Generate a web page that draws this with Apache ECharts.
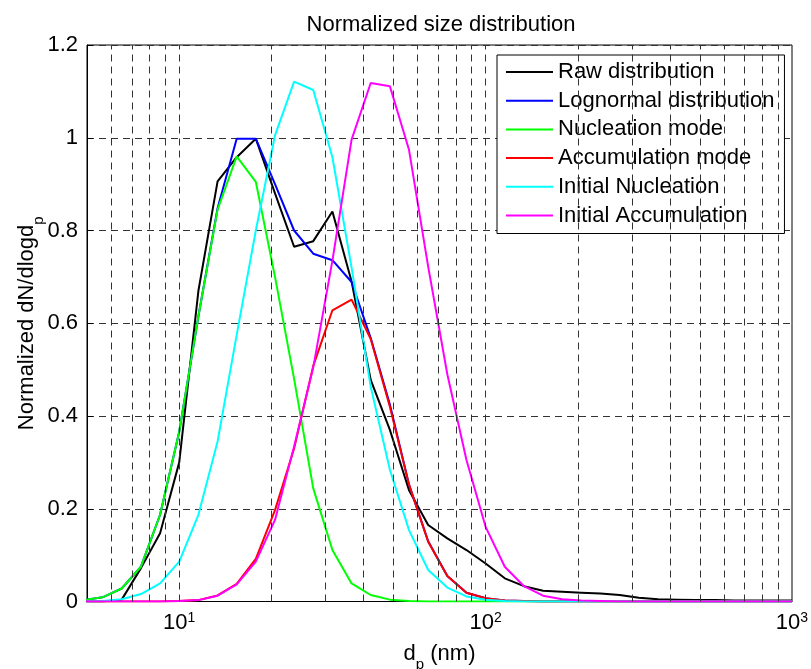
<!DOCTYPE html>
<html>
<head>
<meta charset="utf-8">
<script src="https://cdn.jsdelivr.net/npm/echarts@6/dist/echarts.min.js"></script>
<style>
  html, body { margin: 0; padding: 0; background: #fff; }
  #chart { width: 811px; height: 669px; }
</style>
</head>
<body>
<div id="chart"></div>
<script>
// Particle diameters (nm), 16 bins per decade
const diameters = [4.87, 5.62, 6.49, 7.50, 8.66, 10.0, 11.55, 13.34, 15.40, 17.78,
  20.54, 23.71, 27.38, 31.62, 36.52, 42.17, 48.70, 56.23, 64.94, 74.99,
  86.60, 100.0, 115.5, 133.4, 154.0, 177.8, 205.4, 237.1, 273.8, 316.2,
  365.2, 421.7, 487.0, 562.3, 649.4, 749.9, 866.0, 1000];

const rawDist = [0, 0, 0.004, 0.072, 0.147, 0.300, 0.670, 0.906, 0.958, 0.998,
  0.880, 0.765, 0.777, 0.841, 0.690, 0.478, 0.370, 0.240, 0.165, 0.136,
  0.111, 0.082, 0.050, 0.033, 0.023, 0.021, 0.019, 0.017, 0.014, 0.008,
  0.005, 0.004, 0.003, 0.003, 0.002, 0.002, 0.002, 0.002];

const lognormalDist = [0.003, 0.009, 0.028, 0.075, 0.187, 0.366, 0.615, 0.848, 0.998, 0.998,
  0.900, 0.800, 0.750, 0.736, 0.689, 0.568, 0.425, 0.252, 0.130, 0.055,
  0.019, 0.007, 0.002, 0.001, 0, 0, 0, 0, 0, 0,
  0, 0, 0, 0, 0, 0, 0, 0];

const nucleationMode = [0.003, 0.009, 0.028, 0.075, 0.187, 0.366, 0.615, 0.845, 0.960, 0.905,
  0.700, 0.480, 0.244, 0.111, 0.039, 0.014, 0.004, 0.001, 0, 0,
  0, 0, 0, 0, 0, 0, 0, 0, 0, 0,
  0, 0, 0, 0, 0, 0, 0, 0];

const accumulationMode = [0, 0, 0, 0, 0, 0.001, 0.003, 0.013, 0.038, 0.092,
  0.197, 0.330, 0.508, 0.628, 0.651, 0.566, 0.420, 0.252, 0.129, 0.055,
  0.019, 0.007, 0.002, 0.001, 0, 0, 0, 0, 0, 0,
  0, 0, 0, 0, 0, 0, 0, 0];

const initialNucleation = [0, 0.001, 0.005, 0.016, 0.039, 0.086, 0.187, 0.345, 0.575, 0.800,
  1.005, 1.121, 1.103, 0.958, 0.720, 0.463, 0.284, 0.154, 0.068, 0.030,
  0.011, 0.004, 0.001, 0, 0, 0, 0, 0, 0, 0,
  0, 0, 0, 0, 0, 0, 0, 0];

const initialAccumulation = [0, 0, 0, 0, 0, 0.001, 0.003, 0.0125, 0.037, 0.086,
  0.176, 0.334, 0.505, 0.735, 0.996, 1.118, 1.111, 0.974, 0.722, 0.490,
  0.305, 0.161, 0.075, 0.033, 0.0125, 0.005, 0.002, 0.001, 0, 0,
  0, 0, 0, 0, 0, 0, 0, 0];

const seriesNames = ['Raw distribution', 'Lognormal distribution', 'Nucleation mode',
  'Accumulation mode', 'Initial Nucleation', 'Initial Accumulation'];
const seriesValues = [rawDist, lognormalDist, nucleationMode, accumulationMode,
  initialNucleation, initialAccumulation];
const seriesColors = ['#000000', '#0000ff', '#00ff00', '#ff0000', '#00ffff', '#ff00ff'];

// Vertical dashed grid positions on the log axis
const xGridValues = [6, 7, 8, 9, 10, 20, 30, 40, 50, 60, 70, 80, 90,
  100, 200, 300, 400, 500, 600, 700, 800, 900];
const xTickExponents = [1, 2, 3];

const FONT = '"Liberation Sans", Arial, Helvetica, sans-serif';
const FS = 22;
const gridDash = { color: '#333333', width: 1, type: [7, 5] };

// rich styles: base text plus a lowered subscript
const subRich = {
  b: { fontFamily: FONT, fontSize: FS, color: '#000', lineHeight: 22, verticalAlign: 'top' },
  s: { fontFamily: FONT, fontSize: 15, color: '#000', padding: [15, 0, 0, 0], verticalAlign: 'top' }
};

const chart = echarts.init(document.getElementById('chart'), null, { renderer: 'canvas' });

const lineSeries = seriesNames.map((name, i) => ({
  name: name,
  type: 'line',
  z: 3,
  symbol: 'none',
  showSymbol: false,
  smooth: false,
  lineStyle: { color: seriesColors[i], width: 2 },
  itemStyle: { color: seriesColors[i] },
  emphasis: { disabled: true },
  data: diameters.map((d, j) => [d, seriesValues[i][j]])
}));

const gridSeries = {
  name: 'xgrid',
  type: 'line',
  z: 1,
  silent: true,
  symbol: 'none',
  data: [],
  markLine: {
    silent: true,
    animation: false,
    symbol: ['none', 'none'],
    label: { show: false },
    emphasis: { disabled: true },
    lineStyle: gridDash,
    data: xGridValues.map(v => ({ xAxis: v }))
  }
};

const option = {
  animation: false,
  backgroundColor: '#fff',
  textStyle: { fontFamily: FONT, color: '#000' },
  title: {
    text: 'Normalized size distribution',
    left: 436,
    textAlign: 'center',
    top: 9,
    textStyle: { fontFamily: FONT, fontSize: FS, fontWeight: 'normal', color: '#000' }
  },
  grid: {
    left: 87, right: 19, top: 45, bottom: 67.5,
    show: true, borderColor: '#000', borderWidth: 1,
    outerBoundsMode: 'none', containLabel: false
  },
  legend: {
    data: seriesNames,
    orient: 'vertical',
    left: 497,
    top: 55,
    padding: [6, 10, 7, 9],
    itemWidth: 47,
    itemHeight: 14,
    itemGap: 6.7,
    backgroundColor: '#fff',
    borderColor: '#000',
    borderWidth: 1,
    borderRadius: 0,
    selectedMode: false,
    icon: 'path://M0,0 L47,0 L47,2 L0,2 Z',
    textStyle: { fontFamily: FONT, fontSize: FS, color: '#000', lineHeight: 22 }
  },
  xAxis: [{
    type: 'log',
    logBase: 10,
    min: 5,
    max: 1000,
    name: '{b|d}{s|p}{b| (nm)}',
    nameLocation: 'middle',
    nameGap: 41,
    nameMoveOverlap: false,
    nameTextStyle: { rich: subRich },
    axisLine: { show: true, lineStyle: { color: '#000', width: 1 } },
    axisTick: { show: false },
    splitLine: { show: false },
    axisLabel: {
      margin: 10,
      showMinLabel: true,
      showMaxLabel: true,
      formatter: function (v) {
        const e = Math.round(Math.log10(v));
        if (Math.abs(Math.log10(v) - e) > 1e-6 || xTickExponents.indexOf(e) < 0) return '';
        return '{b|10}{p|' + e + '}';
      },
      rich: {
        b: { fontFamily: FONT, fontSize: FS, color: '#000', lineHeight: 22, verticalAlign: 'bottom' },
        p: { fontFamily: FONT, fontSize: 14, color: '#000', lineHeight: 20, verticalAlign: 'top' }
      }
    }
  }],
  yAxis: [{
    type: 'value',
    min: 0,
    max: 1.2,
    interval: 0.2,
    name: '{b|Normalized dN/dlogd}{s|p}',
    nameLocation: 'middle',
    nameRotate: 90,
    nameGap: 41,
    nameMoveOverlap: false,
    nameTextStyle: { rich: subRich },
    axisLine: { show: true, lineStyle: { color: '#000', width: 1 } },
    axisTick: { show: true, inside: true, length: 6, lineStyle: { color: '#000' } },
    splitLine: { show: true, lineStyle: gridDash },
    axisLabel: {
      margin: 9,
      fontFamily: FONT,
      fontSize: FS,
      color: '#000',
      formatter: function (v) { return String(Math.round(v * 10) / 10); }
    }
  }],
  series: [gridSeries].concat(lineSeries)
};

chart.setOption(option);
</script>
</body>
</html>
